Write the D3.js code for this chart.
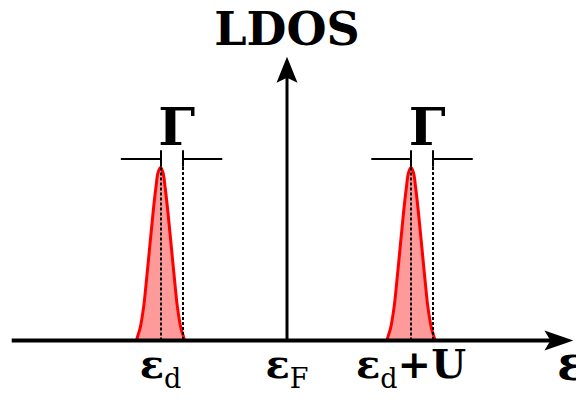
<!DOCTYPE html>
<html>
<head>
<meta charset="utf-8">
<script src="https://cdn.jsdelivr.net/npm/d3@7"></script>
<style>
  html, body { margin: 0; padding: 0; background: #fff; }
  text { font-family: "DejaVu Serif", serif; font-weight: bold; fill: #000; }
</style>
</head>
<body>
<div id="chart"></div>
<script>
// ============================================================
// Data (energies in units of U, LDOS normalised to peak = 1)
// ============================================================
var levelNames = ["εd", "εF", "εd+U"];
var levelEnergies = [-1.02, 0, 1.0];
var peakCenters = [-1.02, 1.0];
// peak profile: offset from centre, height
var profileOffsets = [-0.194, -0.18, -0.165, -0.135, -0.12, -0.094, -0.06, -0.038, -0.02, 0,
                      0.02, 0.038, 0.06, 0.094, 0.12, 0.135, 0.165, 0.18, 0.194];
var profileHeights = [0.0, 0.035, 0.07, 0.2, 0.3, 0.49, 0.74, 0.88, 0.97, 1.0,
                      0.97, 0.88, 0.74, 0.49, 0.3, 0.2, 0.07, 0.035, 0.0];
var gammaWidth = 0.178;
var axisX = [-2.22, 2.31];
var axisY = [0, 1.64];

var W = 576, H = 400;
var svg = d3.select("#chart").append("svg")
    .attr("width", W)
    .attr("height", H);

var x = d3.scaleLinear().domain([0, 1]).range([287, 411]);
var y = d3.scaleLinear().domain([0, 1]).range([340.5, 167.5]);

// ============================================================
// Peaks
// ============================================================
var area = d3.area()
    .x(function (d) { return x(d[0]); })
    .y0(y(0))
    .y1(function (d) { return y(d[1]); })
    .curve(d3.curveCatmullRom);
var line = d3.line()
    .x(function (d) { return x(d[0]); })
    .y(function (d) { return y(d[1]); })
    .curve(d3.curveCatmullRom);

peakCenters.forEach(function (c) {
    var pts = profileOffsets.map(function (o, i) { return [c + o, profileHeights[i]]; });
    var xc = Math.round(x(c));
    var xr = Math.round(x(c + gammaWidth));

    svg.append("path").attr("d", area(pts))
        .attr("fill", "#ff9a9a");
    svg.append("path").attr("d", line(pts))
        .attr("fill", "none")
        .attr("stroke", "#ff0000")
        .attr("stroke-width", 3);

    // dashed guides
    svg.append("line")
        .attr("x1", xc).attr("x2", xc)
        .attr("y1", y(1)).attr("y2", y(0))
        .attr("stroke", "#000").attr("stroke-width", 2)
        .attr("stroke-dasharray", "3,2");
    svg.append("line")
        .attr("x1", xr).attr("x2", xr)
        .attr("y1", y(1.06)).attr("y2", y(0))
        .attr("stroke", "#000").attr("stroke-width", 2)
        .attr("stroke-dasharray", "3,2");

    // width marker
    var g = svg.append("g").attr("stroke", "#000").attr("stroke-width", 2);
    g.append("line")
        .attr("x1", x(c - 0.32)).attr("x2", xc)
        .attr("y1", Math.round(y(1.052))).attr("y2", Math.round(y(1.052)));
    g.append("line")
        .attr("x1", xr).attr("x2", x(c + gammaWidth + 0.32))
        .attr("y1", Math.round(y(1.052))).attr("y2", Math.round(y(1.052)));
    g.append("line")
        .attr("x1", xc).attr("x2", xc)
        .attr("y1", y(1.1)).attr("y2", y(1.005));
    g.append("line")
        .attr("x1", xr).attr("x2", xr)
        .attr("y1", y(1.1)).attr("y2", y(1.005));

    svg.append("text")
        .attr("x", x(c + 0.13))
        .attr("y", 145)
        .attr("text-anchor", "middle")
        .style("font-size", "52px")
        .text("Γ");
});

// ============================================================
// Axes with arrows
// ============================================================
svg.append("line")
    .attr("x1", x(axisX[0])).attr("x2", x(axisX[1]) - 20)
    .attr("y1", y(0)).attr("y2", y(0))
    .attr("stroke", "#000").attr("stroke-width", 4);
var tx = x(axisX[1]);
svg.append("path")
    .attr("d", "M" + tx + "," + y(0) + "L" + (tx - 29) + "," + (y(0) - 10) +
               "L" + (tx - 23) + "," + y(0) + "L" + (tx - 29) + "," + (y(0) + 10) + "Z")
    .attr("fill", "#000");

svg.append("line")
    .attr("x1", x(0)).attr("x2", x(0))
    .attr("y1", y(0)).attr("y2", y(axisY[1]) + 20)
    .attr("stroke", "#000").attr("stroke-width", 3);
var ty = y(axisY[1]);
svg.append("path")
    .attr("d", "M" + x(0) + "," + ty + "L" + (x(0) - 10.5) + "," + (ty + 26) +
               "L" + x(0) + "," + (ty + 21) + "L" + (x(0) + 10.5) + "," + (ty + 26) + "Z")
    .attr("fill", "#000");

svg.append("text")
    .attr("x", x(0))
    .attr("y", 45)
    .attr("text-anchor", "middle")
    .style("font-size", "46px")
    .text("LDOS");

// axis label, partly off the right edge as in the original
svg.append("text")
    .attr("x", 557)
    .attr("y", 380)
    .style("font-size", "48px")
    .text("ε");

// ============================================================
// Level labels
// ============================================================
levelNames.forEach(function (name, i) {
    var t = svg.append("text")
        .attr("x", x(levelEnergies[i]))
        .attr("y", 378)
        .attr("text-anchor", "middle")
        .style("font-size", "40px");
    t.append("tspan").text("ε");
    t.append("tspan").attr("dy", 10)
        .style("font-size", "27px").style("font-weight", "normal")
        .text(name.charAt(1));
    if (name.length > 2) {
        t.append("tspan").attr("dy", -10).text(name.slice(2));
    }
});
</script>
</body>
</html>
